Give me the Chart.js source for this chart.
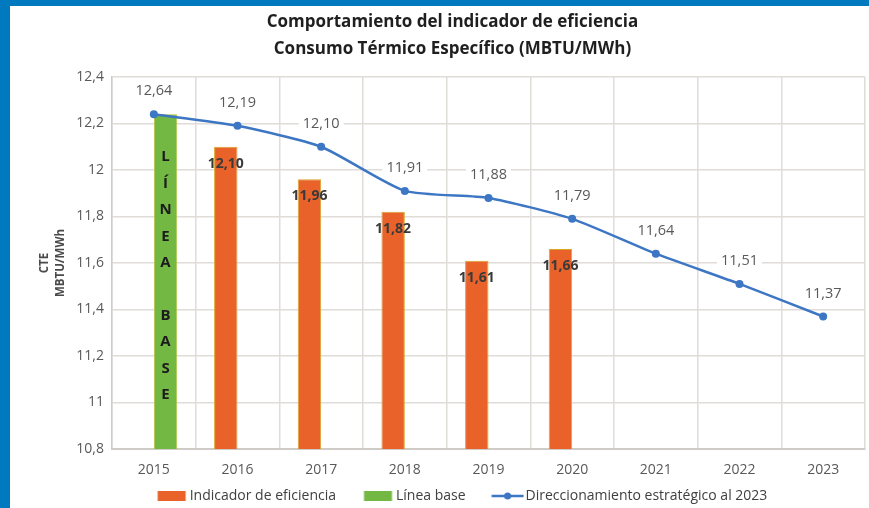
<!DOCTYPE html>
<html lang="es">
<head>
<meta charset="utf-8">
<title>Consumo Térmico Específico</title>
<script src="https://cdn.jsdelivr.net/npm/chart.js@4/dist/chart.umd.min.js"></script>
<style>
    body { margin: 0; background: #0079bf; overflow: hidden; }
    #marco { position: absolute; left: 10px; top: 6px; width: 859px; height: 502px; background: #fff; }
</style>
</head>
<body>
<div id="marco"><canvas id="cte-chart" width="859" height="502"></canvas></div>
<script>
const years = ['2015', '2016', '2017', '2018', '2019', '2020', '2021', '2022', '2023']
const indicadorEficiencia = [null, 12.10, 11.96, 11.82, 11.61, 11.66, null, null, null]
const lineaBase = [12.24, null, null, null, null, null, null, null, null]
const direccionamiento = [12.24, 12.19, 12.10, 11.91, 11.88, 11.79, 11.64, 11.51, 11.37]
const direccionamientoEtiquetas = ['12,64', '12,19', '12,10', '11,91', '11,88', '11,79', '11,64', '11,51', '11,37']
const indicadorEtiquetas = ['', '12,10', '11,96', '11,82', '11,61', '11,66', '', '', '']
const lineaBaseTexto = ['L', 'Í', 'N', 'E', 'A', '', 'B', 'A', 'S', 'E']
const yTicks = [10.8, 11, 11.2, 11.4, 11.6, 11.8, 12, 12.2, 12.4]
const yTickLabels = ['10,8', '11', '11,2', '11,4', '11,6', '11,8', '12', '12,2', '12,4']

const ORANGE = '#e8622a'
const GREEN = '#73b843'
const BLUE = '#3d76c3'
const FONT = '"Open Sans", "Noto Sans", sans-serif'

// legend icons: blank space on the left gives the wide gap between legend entries
function legendIcon(type, color) {
    let icon = document.createElement('canvas')
    icon.width = 56
    icon.height = 12
    let c = icon.getContext('2d')
    c.fillStyle = color
    if (type === 'line') {
        c.strokeStyle = color
        c.lineWidth = 2.5
        c.beginPath()
        c.moveTo(23.5, 6)
        c.lineTo(55.5, 6)
        c.stroke()
        c.beginPath()
        c.arc(39.5, 6, 3.5, 0, Math.PI * 2)
        c.fill()
    } else {
        c.fillRect(25.5, 1, 28, 10)
    }
    return icon
}

const etiquetas = {
    id: 'etiquetas',
    beforeDatasetsDraw(chart) {
        let ctx = chart.ctx
        ctx.save()
        ctx.font = '14.5px ' + FONT
        ctx.fillStyle = '#ffffff'
        chart.getDatasetMeta(2).data.forEach((point, i) => {
            let w = ctx.measureText(direccionamientoEtiquetas[i]).width + 8
            ctx.fillRect(point.x - w / 2, point.y - 33, w, 20)
        })
        ctx.restore()
    },
    afterDatasetsDraw(chart) {
        let ctx = chart.ctx
        ctx.save()
        ctx.textAlign = 'center'
        ctx.textBaseline = 'middle'

        ctx.font = 'bold 14px ' + FONT
        ctx.fillStyle = '#3a3a3a'
        chart.getDatasetMeta(0).data.forEach((bar, i) => {
            if (!indicadorEtiquetas[i]) return
            ctx.fillText(indicadorEtiquetas[i], bar.x, bar.y + 17)
        })

        let base = chart.getDatasetMeta(1).data[0]
        ctx.font = 'bold 15px ' + FONT
        ctx.fillStyle = '#1c1c1c'
        lineaBaseTexto.forEach((letra, k) => {
            ctx.fillText(letra, base.x, base.y + 43 + k * 26.4)
        })

        ctx.font = '14.5px ' + FONT
        ctx.fillStyle = '#595959'
        chart.getDatasetMeta(2).data.forEach((point, i) => {
            ctx.fillText(direccionamientoEtiquetas[i], point.x, point.y - 23)
        })
        ctx.restore()
    }
}

let cteChart = new Chart(document.getElementById('cte-chart').getContext('2d'), {
    type: 'bar',
    data: {
        labels: years,
        datasets: [
            {
                label: 'Indicador de eficiencia',
                data: indicadorEficiencia,
                backgroundColor: ORANGE,
                borderColor: '#d9a62a',
                borderWidth: 1,
                categoryPercentage: 0.56,
                barPercentage: 1
            },
            {
                label: 'Línea base',
                data: lineaBase,
                backgroundColor: GREEN,
                borderColor: '#b8c23a',
                borderWidth: 1,
                categoryPercentage: 0.56,
                barPercentage: 1
            },
            {
                type: 'line',
                label: 'Direccionamiento estratégico al 2023',
                data: direccionamiento,
                borderColor: BLUE,
                backgroundColor: BLUE,
                borderWidth: 2.5,
                pointRadius: 4,
                pointBackgroundColor: BLUE,
                pointBorderWidth: 0,
                tension: 0.2,
                order: -1
            }
        ]
    },
    options: {
        responsive: false,
        animation: false,
        layout: { padding: { left: 27, right: 1, top: 0, bottom: -5 } },
        plugins: {
            tooltip: { enabled: false },
            title: {
                display: true,
                text: ['Comportamiento del indicador de eficiencia', 'Consumo Térmico Específico (MBTU/MWh)'],
                color: '#1f1f1f',
                font: { family: FONT, size: 17, weight: 'bold', lineHeight: '27px' },
                padding: { top: 3, bottom: 14 }
            },
            legend: {
                position: 'bottom',
                labels: {
                    usePointStyle: true,
                    pointStyleWidth: 45,
                    boxHeight: 10,
                    padding: 8,
                    color: '#404040',
                    font: { family: FONT, size: 14 },
                    sort: (a, b) => a.datasetIndex - b.datasetIndex,
                    generateLabels: chart => chart.data.datasets.map((ds, i) => ({
                        text: ds.label,
                        datasetIndex: i,
                        fontColor: '#404040',
                        lineWidth: 0,
                        hidden: false,
                        pointStyle: legendIcon(ds.type === 'line' ? 'line' : 'bar', ds.backgroundColor)
                    }))
                }
            }
        },
        scales: {
            x: {
                afterFit: scale => { scale.height = 32 },
                grid: { offset: true, color: '#e0dcd8', lineWidth: 1.5, drawTicks: false },
                border: { color: '#cfcbc7', width: 2 },
                ticks: { color: '#595959', padding: 13, font: { family: FONT, size: 14 } }
            },
            y: {
                min: 10.8,
                max: 12.4,
                afterFit: scale => { scale.width = 75 },
                afterBuildTicks: scale => { scale.ticks = yTicks.map(v => ({ value: v })) },
                grid: { color: '#e0dcd8', lineWidth: 1.5, drawTicks: false },
                border: { color: '#cfcbc7', width: 1.5 },
                ticks: {
                    color: '#595959',
                    padding: 8,
                    font: { family: FONT, size: 14 },
                    callback: (value, index) => yTickLabels[index]
                },
                title: {
                    display: true,
                    text: ['CTE', 'MBTU/MWh'],
                    color: '#4a4a4a',
                    font: { family: FONT, size: 11.5, weight: 'bold', lineHeight: 1.45 },
                    padding: { top: -1, bottom: 0 }
                }
            }
        }
    },
    plugins: [etiquetas]
})
</script>
</body>
</html>
